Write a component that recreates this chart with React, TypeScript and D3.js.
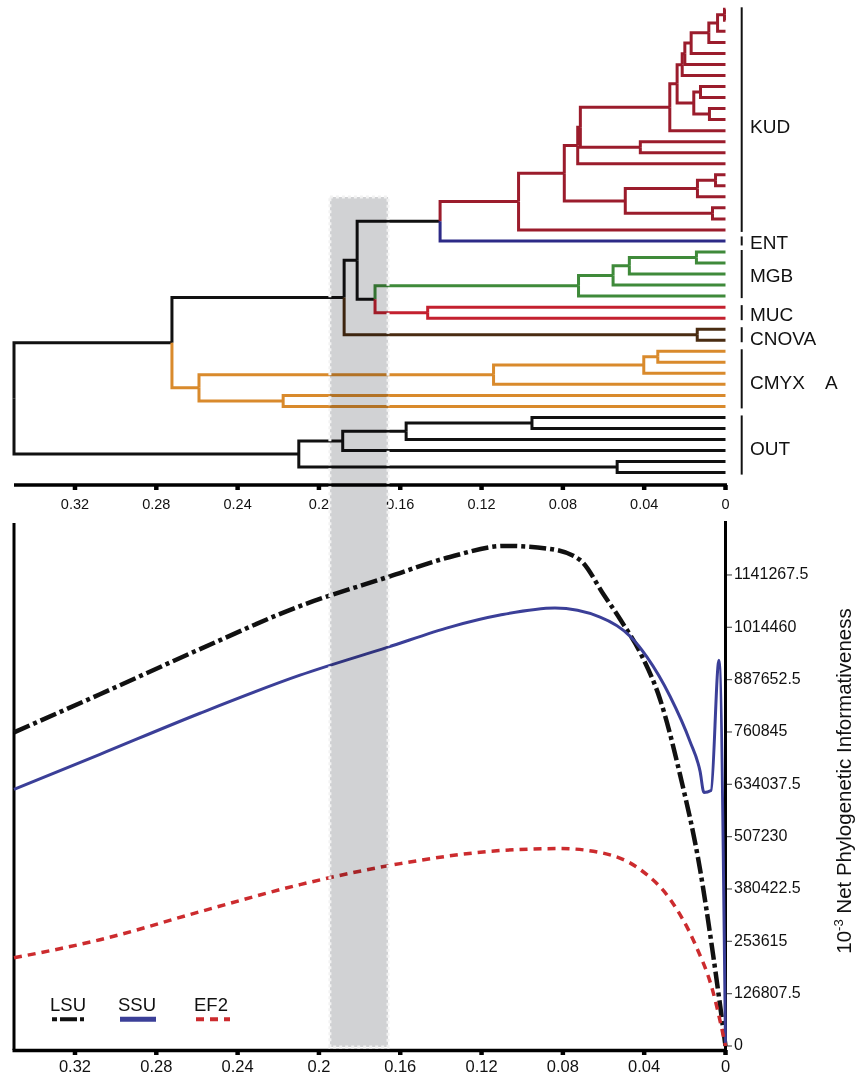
import React from "react";
import * as d3 from "d3";

// clades, top to bottom
const cladeNames = ["KUD", "ENT", "MGB", "MUC", "CNOVA", "CMYX    A", "OUT"];
const cladeTipCounts = [21, 1, 5, 2, 2, 6, 6];
const cladeColors = ["#9b1c2c", "#2d2a87", "#3f8a3a", "#c4202f", "#4a2c12", "#d98a2c", "#111111"];

// tree: [height, child, child], tips are tip indices (0 = top)
type TNode = number | [number, TNode, TNode];
const kudTree: TNode = [0.1018,
  [0.0793,
    [0.0727,
      [0.0714,
        [0.0274,
          [0.0238,
            [0.0213, [0.02, [0.0169, [0.0082, [0.0039, [0.0005, 0, 1], 2], 3], 4], 5], 6],
            [0.0156, [0.0123, 7, 8], [0.0079, 9, 10]]],
          11],
        [0.0419, 12, 13]],
      14],
    [0.0493, [0.0138, [0.0049, 15, 16], 17], [0.0064, 18, 19]]],
  20];
const mgbTree: TNode = [0.0723, [0.0553, [0.0473, [0.0143, 22, 23], 24], 25], 26];
const cmyxTree: TNode = [0.259, [0.1141, [0.0402, [0.0333, 31, 32], 33], 34], [0.2176, 35, 36]];
const outTree: TNode = [0.2099, [0.1883, [0.1571, [0.0952, 37, 38], 39], 40], [0.0533, 41, 42]];
const tree: TNode = [0.35,
  [0.2723,
    [0.1876,
      [0.1812, [0.1404, kudTree, 21], [0.1724, mgbTree, [0.1465, 27, 28]]],
      [0.0139, 29, 30]],
    cmyxTree],
  outTree];

const xTicks = [0.32, 0.28, 0.24, 0.2, 0.16, 0.12, 0.08, 0.04, 0];
const xTickLabels = ["0.32", "0.28", "0.24", "0.2", "0.16", "0.12", "0.08", "0.04", "0"];
const yTicks = [0, 126807.5, 253615, 380422.5, 507230, 634037.5, 760845, 887652.5, 1014460, 1141267.5];

// [distance, informativeness]
const lsuPoints: [number, number][] = [
  [0.35, 760000], [0.3077, 852300], [0.2585, 961600], [0.2093, 1066000], [0.166, 1136400],
  [0.1355, 1184900], [0.1085, 1211700], [0.0864, 1204400], [0.0716, 1177700], [0.0598, 1092700],
  [0.0519, 1034400], [0.0411, 944600], [0.0322, 840200], [0.0224, 658100], [0.0125, 427400],
  [0.0061, 221000], [0, 0],
];
const ssuPoints: [number, number][] = [
  [0.35, 621600], [0.3077, 706600], [0.2585, 806200], [0.2093, 898400], [0.166, 966400],
  [0.1355, 1015000], [0.1109, 1044100], [0.0839, 1061100], [0.0617, 1039300], [0.047, 993100],
  [0.0386, 942100], [0.0273, 847400], [0.0175, 738200], [0.0125, 665300], [0.0106, 614300],
  [0.0071, 619200], [0.0032, 934900], [0, 0],
];
const ef2Points: [number, number][] = [
  [0.35, 213700], [0.3077, 257400], [0.2585, 325400], [0.2093, 391000], [0.16, 441900],
  [0.1108, 473500], [0.0812, 478400], [0.0615, 468600], [0.0419, 427400], [0.0271, 354500],
  [0.0148, 245300], [0.0064, 136000], [0, 0],
];

const seriesNames = ["LSU", "SSU", "EF2"];
const seriesColors = ["#111111", "#3b3f98", "#cc2b2e"];
const seriesDash = ["17 4 4 4", "none", "8 6"];
const seriesWidth = [4.5, 3, 3.5];

const band = [0.1946, 0.166];

const font = "'Liberation Sans', Arial, Helvetica, sans-serif";

type Laid = { v: number; y: number; clade: number; kids: Laid[] };

export default function App() {
  const x = d3.scaleLinear().domain([0.35, 0]).range([14, 725.5]);
  const tipY = d3.scaleLinear().domain([0, 42]).range([9.3, 472.6]);
  const y = d3.scaleLinear().domain([0, 1272000]).range([1046, 521]);

  const cladeStart = cladeTipCounts.map((_, i) => d3.sum(cladeTipCounts.slice(0, i)));
  const cladeOf = (t: number) => d3.bisectRight(cladeStart, t) - 1;

  const layout = (n: TNode): Laid => {
    if (!Array.isArray(n)) return { v: 0, y: tipY(n), clade: cladeOf(n), kids: [] };
    const a = layout(n[1]);
    const b = layout(n[2]);
    return { v: n[0], y: (a.y + b.y) / 2, clade: a.clade === b.clade ? a.clade : -1, kids: [a, b] };
  };
  const root = layout(tree);

  const edges: { d: string; c: string }[] = [];
  const walk = (n: Laid) => {
    n.kids.forEach((k) => {
      edges.push({
        d: `M${x(n.v)},${n.y}V${k.y}H${x(k.v)}`,
        c: k.clade >= 0 ? cladeColors[k.clade] : "#111111",
      });
      walk(k);
    });
  };
  walk(root);

  const line = d3.line<[number, number]>()
    .x((d) => x(d[0]))
    .y((d) => y(d[1]))
    .curve(d3.curveMonotoneX);
  const series = [lsuPoints, ssuPoints, ef2Points].map((p) => [...p].sort((a, b) => b[0] - a[0]));

  const legendX = [52, 120, 196];
  const legendW = [32, 36, 34];

  return (
    <svg width={855} height={1076} style={{ position: "absolute", left: 0, top: 0, background: "#fff" }}
      fontFamily={font}>
      {/* tree */}
      <g fill="none" strokeWidth={3} strokeLinejoin="miter">
        {edges.map((e, i) => <path key={i} d={e.d} stroke={e.c} />)}
      </g>

      {/* clade bars + labels */}
      {cladeNames.map((name, i) => {
        const first = tipY(cladeStart[i]);
        const last = tipY(cladeStart[i] + cladeTipCounts[i] - 1);
        const pad = cladeTipCounts[i] === 1 ? 4.5 : 2;
        const mid = (first + last) / 2 + (i === 0 ? 8 : i >= 4 ? 5 : 3);
        return (
          <g key={name}>
            <line x1={741.7} x2={741.7} y1={first - pad} y2={last + pad} stroke="#111" strokeWidth={2} />
            <text x={750} y={mid} dominantBaseline="middle" fontSize={19} fill="#111"
              style={{ whiteSpace: "pre" }}>{name}</text>
          </g>
        );
      })}

      {/* top axis */}
      <line x1={14} x2={727} y1={485} y2={485} stroke="#000" strokeWidth={3.5} />
      {xTicks.map((t, i) => (
        <g key={"tt" + i}>
          <line x1={x(t)} x2={x(t)} y1={485} y2={490} stroke="#000" strokeWidth={4.5} />
          <text x={x(t)} y={509} textAnchor="middle" fontSize={14.5} fill="#111">{xTickLabels[i]}</text>
        </g>
      ))}

      {/* bottom chart frame */}
      <line x1={14} x2={14} y1={523} y2={1050} stroke="#000" strokeWidth={3} />
      <line x1={725.5} x2={725.5} y1={521} y2={1050} stroke="#000" strokeWidth={3} />
      <line x1={12.5} x2={727} y1={1050.5} y2={1050.5} stroke="#000" strokeWidth={3.5} />
      {xTicks.map((t, i) => (
        <g key={"bt" + i}>
          <line x1={x(t)} x2={x(t)} y1={1050} y2={1055} stroke="#000" strokeWidth={4.5} />
          <text x={x(t)} y={1072} textAnchor="middle" fontSize={16.5} fill="#111">{xTickLabels[i]}</text>
        </g>
      ))}
      {yTicks.map((t) => (
        <g key={"yt" + t}>
          <line x1={727} x2={732} y1={y(t)} y2={y(t)} stroke="#555" strokeWidth={1.2} />
          <text x={734} y={y(t)} dominantBaseline="middle" fontSize={16} fill="#111">{String(t)}</text>
        </g>
      ))}
      <text transform="translate(851,781) rotate(-90)" textAnchor="middle" fontSize={20.5} fill="#111">
        10<tspan fontSize={13} dy={-8}>-3</tspan><tspan dy={8}> Net Phylogenetic Informativeness</tspan>
      </text>

      {/* curves */}
      <g fill="none">
        {series.map((s, i) => (
          <path key={seriesNames[i]} d={line(s) || ""} stroke={seriesColors[i]} strokeWidth={seriesWidth[i]}
            strokeDasharray={seriesDash[i]} />
        ))}
      </g>

      {/* legend */}
      {seriesNames.map((n, i) => (
        <g key={"lg" + n}>
          <text x={legendX[i] - 2} y={1011} fontSize={18.5} fill="#111">{n}</text>
          <line x1={legendX[i]} x2={legendX[i] + legendW[i]} y1={1019.3} y2={1019.3} stroke={seriesColors[i]}
            strokeWidth={i === 1 ? 5 : 4} strokeDasharray={i === 0 ? "5 3 17 3 4" : seriesDash[i]} />
        </g>
      ))}

      {/* highlighted interval */}
      <rect x={x(band[0])} width={x(band[1]) - x(band[0])} y={197} height={850} fill="#d1d2d4"
        style={{ mixBlendMode: "multiply" }} />
      <rect x={x(band[0])} width={x(band[1]) - x(band[0])} y={197} height={850} fill="none"
        stroke="#f2f2f2" strokeWidth={3} strokeDasharray="3 3" />
    </svg>
  );
}
